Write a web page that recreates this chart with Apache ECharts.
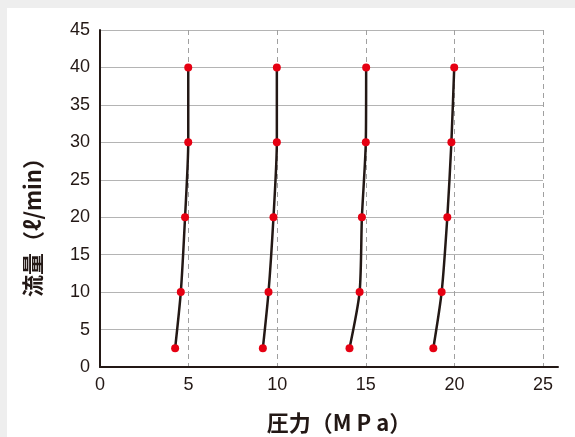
<!DOCTYPE html>
<html>
<head>
<meta charset="utf-8">
<script src="https://cdn.jsdelivr.net/npm/echarts@6/dist/echarts.min.js"></script>
<style>
  html, body { margin: 0; padding: 0; background: #eeeeee; }
  #chart { position: absolute; left: 7px; top: 8px; width: 568px; height: 429px; background: #ffffff; }
</style>
</head>
<body>
<div id="chart"></div>
<script>
// 流量 (y) 点
const flow = [2.5, 10, 20, 30, 40];
// 各設定圧力の実測圧力 (x)
const p5 = [4.24, 4.56, 4.8, 4.98, 4.98];
const p10 = [9.19, 9.51, 9.79, 9.98, 9.98];
const p15 = [14.08, 14.65, 14.78, 15.0, 15.02];
const p20 = [18.81, 19.28, 19.6, 19.83, 19.99];
const curves = [p5, p10, p15, p20];

const ink = "#231815";
const numFont = "Liberation Sans";
const cjkFont = "Noto Sans CJK JP";

const chart = echarts.init(document.getElementById("chart"), null, { renderer: "canvas" });

const series = curves.map((p) => ({
  type: "line",
  xAxisIndex: 0,
  yAxisIndex: 0,
  data: p.map((x, i) => [x, flow[i]]),
  smooth: 0.25,
  symbol: "circle",
  symbolSize: 8,
  lineStyle: { color: ink, width: 2.5 },
  itemStyle: { color: "#e60012" },
  z: 5,
}));

// x軸線だけ少し右へ伸ばすためのダミー系列
series.push({
  type: "line",
  xAxisIndex: 1,
  yAxisIndex: 1,
  data: [],
});

const option = {
  animation: false,
  grid: [
    { left: 93, top: 22, right: 32, bottom: 70 },
    { left: 93, top: 22, right: 17, bottom: 70 },
  ],
  xAxis: [
    {
      type: "value",
      gridIndex: 0,
      min: 0,
      max: 25,
      interval: 5,
      axisLine: { show: false },
      axisTick: { show: false },
      axisLabel: { color: ink, fontSize: 18, fontFamily: numFont, margin: 9 },
      splitLine: { show: true, lineStyle: { color: "#a0a0a0", type: [5, 4], width: 1 } },
    },
    {
      type: "value",
      gridIndex: 1,
      min: 0,
      max: 1,
      axisLine: { show: true, onZero: false, lineStyle: { color: ink, width: 2 } },
      axisTick: { show: false },
      axisLabel: { show: false },
      splitLine: { show: false },
    },
  ],
  yAxis: [
    {
      type: "value",
      gridIndex: 0,
      min: 0,
      max: 45,
      interval: 5,
      axisLine: { show: true, lineStyle: { color: ink, width: 2 } },
      axisTick: { show: false },
      axisLabel: { color: ink, fontSize: 18, fontFamily: numFont, margin: 10 },
      splitLine: { show: true, lineStyle: { color: "#b4b4b4", width: 1 } },
    },
    {
      type: "value",
      gridIndex: 1,
      min: 0,
      max: 1,
      show: false,
    },
  ],
  graphic: [
    {
      type: "text",
      x: 26,
      y: 214,
      rotation: Math.PI / 2,
      style: {
        text: "流量（ℓ/min）",
        fill: ink,
        font: "bold 22px '" + cjkFont + "'",
        align: "center",
        verticalAlign: "middle",
      },
    },
    {
      type: "text",
      x: 332,
      y: 415,
      style: {
        text: "圧力（M P a）",
        fill: ink,
        font: "bold 22px '" + cjkFont + "'",
        align: "center",
        verticalAlign: "middle",
      },
    },
  ],
  series: series,
};

chart.setOption(option);
</script>
</body>
</html>
